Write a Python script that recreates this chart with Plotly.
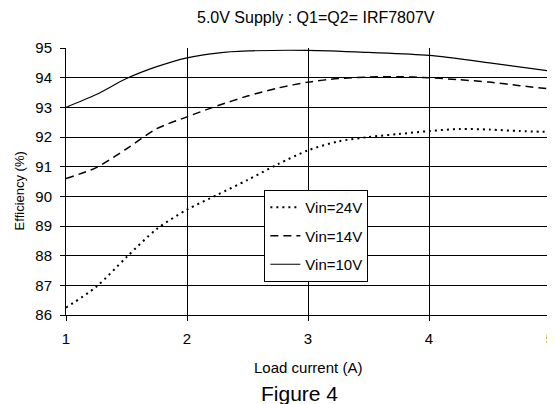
import plotly.graph_objects as go

x_24 = [1, 1.25, 1.5, 1.75, 2, 2.25, 2.5, 2.75, 3, 3.25, 3.5, 3.75, 4, 4.25, 4.5, 4.75, 5]
eff_24 = [86.25, 86.95, 87.95, 88.9, 89.55, 90.05, 90.55, 91.08, 91.55, 91.85, 92.0, 92.1, 92.2, 92.27, 92.25, 92.2, 92.17]
x_14 = [1, 1.25, 1.5, 1.75, 2, 2.25, 2.5, 2.75, 3, 3.25, 3.5, 3.75, 4, 4.25, 4.5, 4.75, 5]
eff_14 = [90.6, 90.97, 91.6, 92.28, 92.68, 93.05, 93.38, 93.65, 93.85, 93.97, 94.02, 94.03, 94.0, 93.93, 93.85, 93.73, 93.62]
x_10 = [1, 1.25, 1.5, 1.75, 2, 2.25, 2.5, 3, 3.5, 4, 4.5, 5]
eff_10 = [93.0, 93.43, 93.97, 94.37, 94.67, 94.83, 94.9, 94.92, 94.85, 94.75, 94.5, 94.22]

names = ["Vin=24V", "Vin=14V", "Vin=10V"]
x_ticks = [1, 2, 3, 4, 5]
y_ticks = [86, 87, 88, 89, 90, 91, 92, 93, 94, 95]

FONT = "Liberation Sans, Arial, sans-serif"
OFF = 8  # page body margin
W, H = 555 - OFF, 404 - OFF
# target window pixels of plot area: left 66, right 554, top 48, bottom 315
L, T = 66 - OFF, 48 - OFF
R = W - (554 - OFF)
B = H - (315 - OFF)
PW, PH = W - L - R, H - T - B


def px(xp):
    return (xp - OFF - L) / PW


def py(yp):
    return (H - B - (yp - OFF)) / PH


fig = go.Figure()
fig.add_trace(go.Scatter(x=x_24, y=eff_24, name=names[0], mode="lines", line_shape="spline",
                         line_smoothing=0.8, legendgroup="a",
                         line=dict(color="black", width=2, dash="2px,4px")))
fig.add_trace(go.Scatter(x=x_14, y=eff_14, name=names[1], mode="lines", line_shape="spline",
                         line_smoothing=0.8, legendgroup="b",
                         line=dict(color="black", width=1.5, dash="8px,5px")))
fig.add_trace(go.Scatter(x=x_10, y=eff_10, name=names[2], mode="lines", line_shape="spline",
                         line_smoothing=0.8, legendgroup="c",
                         line=dict(color="black", width=1.2)))

fig.update_layout(
    width=W, height=H,
    margin=dict(l=L, r=R, t=T, b=B),
    paper_bgcolor="white", plot_bgcolor="white",
    font=dict(family=FONT, size=15, color="black"),
    showlegend=True,
    legend=dict(x=px(266), y=py(190), xanchor="left", yanchor="top",
                bgcolor="white", bordercolor="black", borderwidth=1,
                font=dict(size=15), tracegroupgap=6, traceorder="grouped",
                itemwidth=30, entrywidth=126, entrywidthmode="pixels"),
    xaxis=dict(range=[1, 5], tickvals=x_ticks, ticktext=[str(v) for v in x_ticks],
               showgrid=True, gridcolor="black", gridwidth=1,
               showline=True, linecolor="black", linewidth=1,
               ticks="outside", ticklen=5, tickcolor="black",
               ticklabelstandoff=5, ticklabeloverflow="allow", zeroline=False),
    yaxis=dict(range=[86, 95], tickvals=y_ticks, ticktext=[str(v) for v in y_ticks],
               showgrid=True, gridcolor="black", gridwidth=1,
               showline=True, linecolor="black", linewidth=1,
               ticks="outside", ticklen=5, tickcolor="black",
               ticklabelstandoff=5, zeroline=False),
    annotations=[
        dict(text="5.0V Supply : Q1=Q2= IRF7807V", xref="paper", yref="paper",
             x=px(318), y=py(18), showarrow=False, font=dict(size=16), yanchor="middle"),
        dict(text="Load current (A)", xref="paper", yref="paper", x=px(310), y=py(367),
             showarrow=False, font=dict(size=15), yanchor="middle"),
        dict(text="Figure 4", xref="paper", yref="paper", x=px(301), y=py(393),
             showarrow=False, font=dict(size=21), yanchor="middle"),
        dict(text="Efficiency (%)", xref="paper", yref="paper", x=px(19), y=py(191),
             showarrow=False, textangle=-90, font=dict(size=13), xanchor="center",
             yanchor="middle"),
    ],
)

fig.write_html("out.html")
